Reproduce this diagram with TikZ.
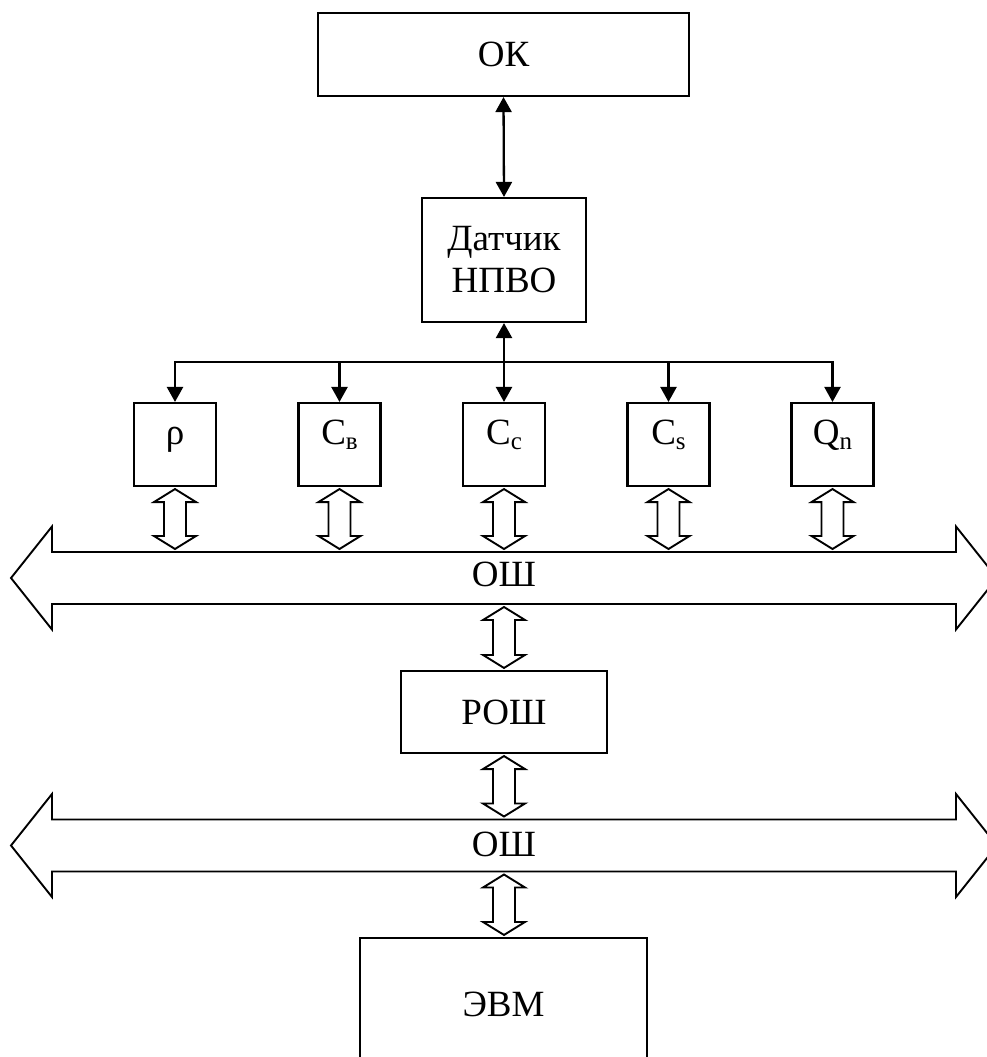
\documentclass[tikz,border=0pt]{standalone}
\usepackage{fontspec}
\setmainfont{Liberation Serif}
\usetikzlibrary{arrows.meta,calc}

% lowered index letter inside a box label
\newcommand\lowidx[1]{\raisebox{-5pt}{\fontsize{25}{25}\selectfont #1}}

% hollow double-headed link, drawn from top tip #1 to bottom tip #2
\newcommand\hollowlink[2]{%
  \draw[hollow] let \p1=(#1), \p2=(#2) in
    (\x1,\y1) -- ({\x1+21pt},{\y1-13pt}) -- ({\x1+11pt},{\y1-13pt})
    -- ({\x1+11pt},{\y2+13pt}) -- ({\x1+21pt},{\y2+13pt}) -- (\x1,\y2)
    -- ({\x1-21pt},{\y2+13pt}) -- ({\x1-11pt},{\y2+13pt})
    -- ({\x1-11pt},{\y1-13pt}) -- ({\x1-21pt},{\y1-13pt}) -- cycle;}

% wide two-way bus arrow centred on image row #1
\newcommand\busarrow[1]{%
  \draw[hollow] (11,#1) -- (52,#1-51.5) -- (52,#1-26) -- (956,#1-26)
    -- (956,#1-51.5) -- (997,#1) -- (956,#1+51.5) -- (956,#1+26)
    -- (52,#1+26) -- (52,#1+51.5) -- cycle;}

\begin{document}
\begin{tikzpicture}[x=1pt,y=-1pt,
  >={Triangle[width=16pt,length=15pt]},
  every node/.style={font=\fontsize{37}{42}\selectfont},
  box/.style={draw,line width=2.1pt,rectangle,inner sep=0pt},
  cell/.style={box,minimum width=82pt,minimum height=83pt,
               text height=10pt,text depth=10pt},
  hollow/.style={draw,line width=1.9pt,fill=white,line join=miter},
  conn/.style={line width=2.3pt}]

\useasboundingbox (0,0) rectangle (987,1057);

% main blocks
\node[box,minimum width=371pt,minimum height=83pt] (ok) at (503.5,54.5) {ОК};
\node[box,minimum width=164pt,minimum height=124pt,align=center] (sens) at (504,260) {Датчик\\НПВО};

% measured quantities
\node[cell] (rho) at (175,444.5) {ρ};
\node[cell] (cv)  at (339.5,444.5) {C\lowidx{в}};
\node[cell] (cc)  at (504,444.5) {C\lowidx{с}};
\node[cell] (cs)  at (668.5,444.5) {C\lowidx{s}};
\node[cell] (qn)  at (832.5,444.5) {Q\lowidx{n}};

\node[box,minimum width=206pt,minimum height=82pt] (rosh) at (504,712) {РОШ};
\node[box,minimum width=287pt,minimum height=132pt] (evm) at (503.5,1004) {ЭВМ};

% signal connections
\draw[conn,<->] (ok.south) -- (sens.north);
\draw[conn,<->] (sens.south) -- (cc.north);
\coordinate (tap) at (504,362);
\draw[conn,->] (tap) -| (rho.north);
\draw[conn,->] (tap) -| (cv.north);
\draw[conn,->] (tap) -| (cs.north);
\draw[conn,->] (tap) -| (qn.north);

% common buses
\busarrow{578}
\busarrow{845.5}
\node (bus1) at (504,574) {ОШ};
\node (bus2) at (504,844) {ОШ};
\coordinate (b1n) at (504,552);
\coordinate (b1s) at (504,604);
\coordinate (b2n) at (504,819.5);
\coordinate (b2s) at (504,871.5);

% bus links
\foreach \blk in {rho,cv,cc,cs,qn}
  \hollowlink{[yshift=-2pt]\blk.south}{[yshift=3pt]\blk.south |- b1n};
\hollowlink{[yshift=-3pt]b1s}{[yshift=2pt]rosh.north}
\hollowlink{[yshift=-2pt]rosh.south}{[yshift=3pt]b2n}
\hollowlink{[yshift=-3pt]b2s}{[yshift=2pt]evm.north}
\end{tikzpicture}
\end{document}
